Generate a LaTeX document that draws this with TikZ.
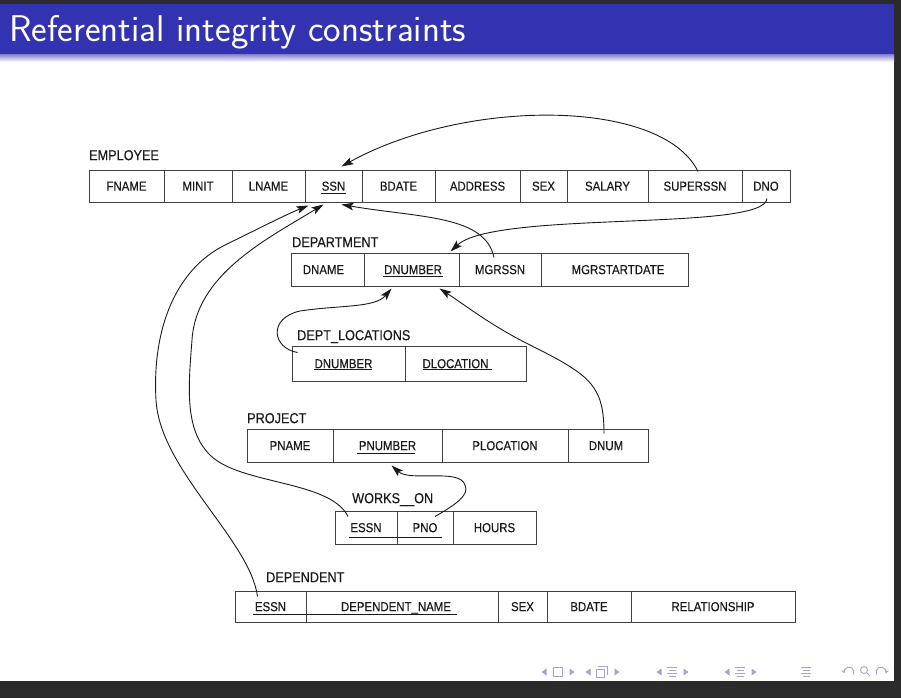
\documentclass[tikz,border=0pt]{standalone}
\usepackage{fontspec}
\newfontfamily\dbfont[FakeStretch=0.88,FakeBold=0.35]{Liberation Sans}
\usetikzlibrary{arrows.meta}

\definecolor{titleblue}{rgb}{0.2,0.2,0.7}
\definecolor{frameedge}{HTML}{2B2B2B}
\definecolor{gridline}{HTML}{404040}
\definecolor{inkcol}{HTML}{1A1A1A}
\definecolor{navcol}{HTML}{A3A3D9}

\tikzset{
  cell/.style={draw=gridline, line width=1pt, inner sep=0pt,
    text height=9.3pt, text depth=0pt, text=inkcol,
    font=\dbfont\fontsize{13}{15}\selectfont},
  relname/.style={anchor=west, inner sep=0pt, text height=10.3pt, text depth=0pt,
    text=inkcol, font=\dbfont\fontsize{14.4}{16}\selectfont},
  keyline/.style={draw=inkcol, line width=0.9pt},
  fk/.style={draw=inkcol, line width=0.9pt,
    -{Stealth[length=12pt,width=7.5pt,inset=2.5pt]}},
  navline/.style={draw=navcol, line width=0.9pt},
  navarc/.style={draw=navcol, line width=0.9pt, -{Stealth[length=3.5pt,width=4.5pt]}},
}

% one table cell: name, left, right, top, bottom, text
\newcommand\dbcell[6]{%
  \node[cell, minimum width={(#3-#2)*1pt}, minimum height={(#5-#4)*1pt}]
    (#1) at ({(#2+#3)/2},{(#4+#5)/2}) {#6};}

% navigation glyphs
\newcommand\navleft[2]{\fill[navcol] (#1+2.5,#2-3.5) -- (#1-2.5,#2) -- (#1+2.5,#2+3.5) -- cycle;}
\newcommand\navright[2]{\fill[navcol] (#1-2.5,#2-3.5) -- (#1+2.5,#2) -- (#1-2.5,#2+3.5) -- cycle;}
\newcommand\navlines[2]{%
  \draw[navline] (#1-5,#2-5) -- (#1+5,#2-5) (#1-3.5,#2-2) -- (#1+3.5,#2-2)
    (#1-5,#2+1) -- (#1+5,#2+1) (#1-3.5,#2+4) -- (#1+3.5,#2+4);}

\begin{document}
\begin{tikzpicture}[x=1pt,y=-1pt]
\useasboundingbox (0,0) rectangle (901,698);

% window edge, slide and title bar
\fill[frameedge] (0,0) rectangle (901,698);
\fill[white] (0,4) rectangle (894,681);
\fill[titleblue] (0,4) rectangle (894,55);
\shade[top color=titleblue!55!white, bottom color=white] (0,55) rectangle (894,62);
\node[anchor=base west, inner sep=0pt, text=white,
  font=\sffamily\fontsize{37.2}{42}\selectfont] (title) at (9,42)
  {Referential integrity constraints};

% EMPLOYEE
\node[relname] (employee) at (89,155) {EMPLOYEE};
\dbcell{e-fname}{89}{164}{170}{202}{FNAME}
\dbcell{e-minit}{164}{232}{170}{202}{MINIT}
\dbcell{e-lname}{232}{305}{170}{202}{LNAME}
\dbcell{e-ssn}{305}{362}{170}{202}{SSN}
\dbcell{e-bdate}{362}{435}{170}{202}{BDATE}
\dbcell{e-address}{435}{520}{170}{202}{ADDRESS}
\dbcell{e-sex}{520}{567}{170}{202}{SEX}
\dbcell{e-salary}{567}{648}{170}{202}{SALARY}
\dbcell{e-superssn}{648}{742}{170}{202}{SUPERSSN}
\dbcell{e-dno}{742}{790}{170}{202}{DNO}
\draw[keyline] (321,193) -- (346,193);

% DEPARTMENT
\node[relname] (department) at (292,242) {DEPARTMENT};
\dbcell{d-dname}{291}{364}{253}{286}{DNAME\hspace*{8pt}}
\dbcell{d-dnumber}{364}{459}{253}{286}{\hspace*{3pt}DNUMBER}
\dbcell{d-mgrssn}{459}{541}{253}{286}{MGRSSN}
\dbcell{d-mgrstart}{541}{688}{253}{286}{\hspace*{7pt}MGRSTARTDATE}
\draw[keyline] (383,276) -- (443,276);

% DEPT_LOCATIONS
\node[relname] (deptloc) at (297,335) {DEPT\_LOCATIONS};
\dbcell{l-dnumber}{292}{405}{346}{381}{DNUMBER\hspace*{10pt}}
\dbcell{l-dlocation}{405}{526}{346}{381}{DLOCATION\hspace*{20pt}}
\draw[keyline] (314,369) -- (372,369);
\draw[keyline] (423,369) -- (492,369);

% PROJECT
\node[relname] (project) at (247,418) {PROJECT};
\dbcell{p-pname}{247}{333}{429}{462}{PNAME}
\dbcell{p-pnumber}{333}{442}{429}{462}{PNUMBER}
\dbcell{p-plocation}{442}{568}{429}{462}{PLOCATION}
\dbcell{p-dnum}{568}{648}{429}{462}{DNUM\hspace*{4pt}}
\draw[keyline] (357,453) -- (415,453);

% WORKS_ON
\node[relname] (workson) at (352,498) {WORKS\_\_ON};
\dbcell{w-essn}{335}{397}{511}{544}{ESSN}
\dbcell{w-pno}{397}{453}{511}{544}{PNO}
\dbcell{w-hours}{453}{536}{511}{544}{HOURS}
\draw[keyline] (349,537) -- (442,537);

% DEPENDENT
\node[relname] (dependent) at (266,577) {DEPENDENT};
\dbcell{n-essn}{235}{306}{591}{622}{ESSN}
\dbcell{n-name}{306}{498}{591}{622}{DEPENDENT\_NAME\hspace*{12pt}}
\dbcell{n-sex}{498}{547}{591}{622}{SEX}
\dbcell{n-bdate}{547}{631}{591}{622}{BDATE}
\dbcell{n-rel}{631}{795}{591}{622}{RELATIONSHIP}
\draw[keyline] (253,614) -- (457,614);

% foreign key references
\draw[fk] ([xshift=3pt,yshift=-2pt]e-superssn.north)
  .. controls (662,98) and (465,98) .. ([xshift=8pt,yshift=3pt]e-ssn.north);
\draw[fk] ([xshift=1pt,yshift=4pt]e-dno.south)
  .. controls (765,232) and (495,210) .. ([xshift=-9pt,yshift=1pt]d-dnumber.north east);
\draw[fk] ([xshift=-6pt,yshift=-5pt]d-mgrssn.north)
  .. controls (485,215) and (420,218) .. ([xshift=8pt,yshift=-2pt]e-ssn.south);
\draw[fk] ([xshift=6pt,yshift=-7pt]l-dnumber.north west)
  .. controls (272,348) and (268,318) .. (300,311)
  .. controls (340,305) and (375,308) .. ([xshift=-20pt,yshift=-2pt]d-dnumber.south);
\draw[fk] ([xshift=-4pt,yshift=-5pt]p-dnum.north)
  .. controls (604,385) and (590,375) .. (530,345)
  .. controls (490,325) and (465,305) .. ([xshift=28pt,yshift=-2pt]d-dnumber.south);
\draw[fk] ([xshift=10pt,yshift=-6pt]w-pno.north)
  .. controls (455,505) and (470,495) .. (465,485)
  .. controls (460,468) and (410,482) .. ([xshift=4pt,yshift=-3pt]p-pnumber.south);
\draw[fk] ([xshift=-18pt,yshift=-6pt]w-essn.north)
  .. controls (330,480) and (240,485) .. (210,455)
  .. controls (185,430) and (188,390) .. (192,340)
  .. controls (196,275) and (265,240) .. ([xshift=-10pt,yshift=-2pt]e-ssn.south);
\draw[fk] ([xshift=-13pt,yshift=-6pt]n-essn.north)
  .. controls (250,540) and (160,470) .. (156,400)
  .. controls (152,330) and (175,270) .. (225,245)
  .. controls (260,228) and (285,215) .. ([xshift=-25pt,yshift=-3pt]e-ssn.south);

% navigation symbols
\navleft{544}{672} \draw[navline] (553,667.5) rectangle (562,676.5); \navright{572}{672}
\navleft{588}{672}
\draw[navline] (596,669) rectangle (604,677); \draw[navline] (598,666.5) -- (607,666.5) -- (607,675);
\navright{617}{672}
\navleft{659}{672} \navlines{672}{672} \navright{686}{672}
\navleft{727}{672} \navlines{740}{672} \navright{754}{672}
\navlines{806}{672}
\draw[navarc] (849,672) ++(30:5) arc[start angle=30, end angle=-195, radius=5];
\draw[navline] (864,670) circle[radius=3.5]; \draw[navline] (866.5,672.5) -- (870,676);
\draw[navarc] (881,672) ++(150:5) arc[start angle=150, end angle=375, radius=5];
\end{tikzpicture}
\end{document}
